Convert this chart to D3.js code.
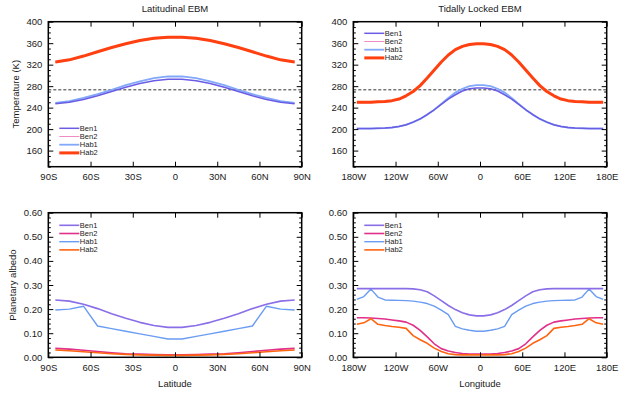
<!DOCTYPE html>
<html>
<head>
<meta charset="utf-8">
<script src="https://cdn.jsdelivr.net/npm/d3@7/dist/d3.min.js"></script>
<style>
  body { margin: 0; background: #fff; }
  svg { display: block; font-family: "Liberation Sans", Arial, sans-serif; }
</style>
</head>
<body>
<svg id="chart" width="625" height="398"></svg>
<script>
// grids
const lat = [-85, -75, -65, -55, -45, -35, -25, -15, -5, 5, 15, 25, 35, 45, 55, 65, 75, 85];
const lon = [-175, -165, -155, -145, -135, -125, -115, -105, -95, -85, -75, -65, -55, -45, -35, -25, -15, -5,
             5, 15, 25, 35, 45, 55, 65, 75, 85, 95, 105, 115, 125, 135, 145, 155, 165, 175];

const seriesNames = ['Ben1', 'Ben2', 'Hab1', 'Hab2'];
// Hab1 goes under Ben1 so the purple line shows where they overlap
const drawOrder = ['Hab1', 'Ben1', 'Ben2', 'Hab2'];

// Latitudinal EBM temperature (K)
const latTempBen1 = [247, 250, 255, 262, 270, 278, 285, 290, 293, 293, 290, 285, 278, 270, 262, 255, 250, 247];
const latTempBen2 = [324, 328, 335, 343, 351, 358, 364, 368, 370, 370, 368, 364, 358, 351, 343, 335, 328, 324];
const latTempHab1 = [249, 252, 258, 265, 273, 282, 289, 295, 298, 298, 295, 289, 282, 273, 265, 258, 252, 249];
const latTempHab2 = [325, 329, 336, 344, 352, 359, 365, 369, 371, 371, 369, 365, 359, 352, 344, 336, 329, 325];

// Tidally locked EBM temperature (K)
const lonTempBen1 = [201, 201, 201, 201.5, 202, 203, 205, 208, 213, 219, 227, 236, 246, 256, 264, 271, 275, 276.5,
                     276.5, 275, 271, 264, 256, 246, 236, 227, 219, 213, 208, 205, 203, 202, 201.5, 201, 201, 201];
const lonTempBen2 = [249, 249, 249, 250, 250.5, 252, 255, 261, 269, 280, 294, 309, 324, 337, 347, 353, 356.5, 358,
                     358, 356.5, 353, 347, 337, 324, 309, 294, 280, 269, 261, 255, 252, 250.5, 250, 249, 249, 249];
const lonTempHab1 = [201, 201, 201, 201.5, 202, 203, 205, 208, 213, 219, 227, 236, 247, 258, 268, 275, 280, 282,
                     282, 280, 275, 268, 258, 247, 236, 227, 219, 213, 208, 205, 203, 202, 201.5, 201, 201, 201];
const lonTempHab2 = [250, 250, 250, 251, 251.5, 253, 256, 262, 270, 281, 295, 310, 325, 338, 348, 354, 357.5, 359,
                     359, 357.5, 354, 348, 338, 325, 310, 295, 281, 270, 262, 256, 253, 251.5, 251, 250, 250, 250];

// Latitudinal EBM albedo
const latAlbBen1 = [.238, .233, .220, .202, .181, .162, .145, .132, .124, .124, .132, .145, .162, .181, .202, .220, .233, .238];
const latAlbBen2 = [.037, .034, .029, .024, .019, .015, .013, .011, .010, .010, .011, .013, .015, .019, .024, .029, .034, .037];
const latAlbHab1 = [.196, .200, .212, .130, .119, .108, .097, .087, .076, .076, .087, .097, .108, .119, .130, .212, .200, .196];
const latAlbHab2 = [.030, .027, .023, .019, .015, .012, .010, .009, .008, .008, .009, .010, .012, .015, .019, .023, .027, .030];

// Tidally locked EBM albedo
const lonAlbBen1 = [.285, .285, .285, .285, .285, .285, .285, .285, .284, .280, .272, .255, .235, .215, .198, .185, .176, .172,
                    .172, .176, .185, .198, .215, .235, .255, .272, .280, .284, .285, .285, .285, .285, .285, .285, .285, .285];
const lonAlbBen2 = [.164, .164, .163, .161, .159, .155, .151, .146, .133, .112, .085, .056, .036, .026, .020, .016, .014, .013,
                    .013, .014, .016, .020, .026, .036, .056, .085, .112, .133, .146, .151, .155, .159, .161, .163, .164, .164];
const lonAlbHab1 = [.240, .252, .283, .250, .238, .237, .236, .235, .233, .229, .223, .212, .196, .177, .128, .118, .112, .108,
                    .108, .112, .118, .128, .177, .196, .212, .223, .229, .233, .235, .236, .237, .238, .250, .283, .252, .240];
const lonAlbHab2 = [.137, .143, .160, .137, .132, .128, .125, .120, .090, .073, .058, .038, .024, .015, .011, .010, .010, .010,
                    .010, .010, .010, .011, .015, .024, .038, .058, .073, .090, .120, .125, .128, .132, .137, .160, .143, .137];

// ticks
const latTicks = [-90, -60, -30, 0, 30, 60, 90];
const latTickLabels = ['90S', '60S', '30S', '0', '30N', '60N', '90N'];
const lonTicks = [-180, -120, -60, 0, 60, 120, 180];
const lonTickLabels = ['180W', '120W', '60W', '0', '60E', '120E', '180E'];
const tempTicks = [160, 200, 240, 280, 320, 360, 400];
const albTicks = [0, 0.1, 0.2, 0.3, 0.4, 0.5, 0.6];
const freezing = 273.15;

const svg = d3.select('#chart');

// styles for top (temperature) and bottom (albedo) rows
const topStyle = {
    Ben1: { color: '#6a5ce4', width: 1.5 },
    Ben2: { color: '#f08cc4', width: 1 },
    Hab1: { color: '#82a8fa', width: 1.8 },
    Hab2: { color: '#ff4010', width: 3 }
};
const bottomStyle = {
    Ben1: { color: '#8a6ee8', width: 1.6 },
    Ben2: { color: '#e0308a', width: 1.6 },
    Hab1: { color: '#6a9cf4', width: 1.4 },
    Hab2: { color: '#ff6410', width: 1.6 }
};

const font = 9.5;

function drawPanel(cfg) {
    const x = d3.scaleLinear().domain(cfg.xDomain).range(cfg.xRange);
    const y = d3.scaleLinear().domain(cfg.yDomain).range(cfg.yRange);
    const g = svg.append('g');
    const left = cfg.xRange[0], right = cfg.xRange[1];
    const top = cfg.yRange[1], bottom = cfg.yRange[0];

    // freezing line
    if (cfg.dashed) {
        g.append('line')
            .attr('x1', left).attr('x2', right)
            .attr('y1', y(freezing)).attr('y2', y(freezing))
            .attr('stroke', '#000').attr('stroke-width', 0.8)
            .attr('stroke-dasharray', '3,2');
    }

    // series
    const line = d3.line().x((d, i) => x(cfg.xs[i])).y(d => y(d));
    drawOrder.forEach(name => {
        const st = cfg.style[name];
        g.append('path')
            .datum(cfg.data[name])
            .attr('d', line)
            .attr('fill', 'none')
            .attr('stroke', st.color)
            .attr('stroke-width', st.width)
            .attr('stroke-linejoin', 'round');
    });

    // minor ticks on y (inward, both sides)
    const minor = d3.range(cfg.yDomain[0], cfg.yDomain[1] + 1e-9, cfg.yMinor)
        .filter(v => !cfg.yTicks.some(t => Math.abs(t - v) < 1e-9));
    g.append('g').attr('transform', `translate(${left},0)`)
        .call(d3.axisLeft(y).tickValues(minor).tickSize(-2.5).tickFormat(''));
    g.append('g').attr('transform', `translate(${right},0)`)
        .call(d3.axisRight(y).tickValues(minor).tickSize(-2.5).tickFormat(''));

    // major ticks
    g.append('g').attr('class', 'axis-y').attr('transform', `translate(${left},0)`)
        .call(d3.axisLeft(y).tickValues(cfg.yTicks).tickSize(-5).tickPadding(6).tickFormat(cfg.yFormat));
    g.append('g').attr('transform', `translate(${right},0)`)
        .call(d3.axisRight(y).tickValues(cfg.yTicks).tickSize(-5).tickFormat(''));
    g.append('g').attr('class', 'axis-x').attr('transform', `translate(0,${bottom})`)
        .call(d3.axisBottom(x).tickValues(cfg.xTicks).tickSize(-5).tickPadding(6.5)
            .tickFormat((d, i) => cfg.xLabels[i]));
    g.append('g').attr('transform', `translate(0,${top})`)
        .call(d3.axisTop(x).tickValues(cfg.xTicks).tickSize(-5).tickFormat(''));

    g.selectAll('.domain').remove();
    g.selectAll('.tick line').attr('stroke', '#000').attr('stroke-width', 1);
    g.selectAll('.tick text').attr('font-size', font).attr('fill', '#1a1a1a')
        .attr('font-family', '"Liberation Sans", Arial, sans-serif');

    // frame
    g.append('rect')
        .attr('x', left).attr('y', top)
        .attr('width', right - left).attr('height', bottom - top)
        .attr('fill', 'none').attr('stroke', '#000').attr('stroke-width', 1.5);

    // legend
    seriesNames.forEach((name, i) => {
        const st = cfg.style[name];
        const ly = cfg.legendY + i * 8.2;
        g.append('line')
            .attr('x1', left + 11).attr('x2', left + 31)
            .attr('y1', ly).attr('y2', ly)
            .attr('stroke', st.color).attr('stroke-width', st.width);
        g.append('text')
            .attr('x', left + 31.5).attr('y', ly)
            .attr('dominant-baseline', 'central')
            .attr('font-size', 7.5).attr('fill', '#222')
            .text(name);
    });

    // title
    if (cfg.title) {
        svg.append('text')
            .attr('x', (left + right) / 2).attr('y', 11.5)
            .attr('text-anchor', 'middle')
            .attr('font-size', font).attr('fill', '#1a1a1a')
            .text(cfg.title);
    }
    // x label
    if (cfg.xTitle) {
        svg.append('text')
            .attr('x', (left + right) / 2).attr('y', 386.5)
            .attr('text-anchor', 'middle')
            .attr('font-size', font).attr('fill', '#1a1a1a')
            .text(cfg.xTitle);
    }
    // y label
    if (cfg.yTitle) {
        const cy = (top + bottom) / 2;
        svg.append('text')
            .attr('transform', `translate(${cfg.yTitleX},${cy}) rotate(-90)`)
            .attr('text-anchor', 'middle')
            .attr('dominant-baseline', 'central')
            .attr('font-size', font).attr('fill', '#1a1a1a')
            .text(cfg.yTitle);
    }
}

const leftRange = [48.3, 301.7];
const rightRange = [353.3, 606.7];
const topRange = [166.7, 21.7];
const bottomRange = [357.3, 212.7];

drawPanel({
    xs: lat, xDomain: [-90, 90], xRange: leftRange, xTicks: latTicks, xLabels: latTickLabels,
    yDomain: [130, 400], yRange: topRange, yTicks: tempTicks, yMinor: 10, yFormat: d3.format('d'),
    data: { Ben1: latTempBen1, Ben2: latTempBen2, Hab1: latTempHab1, Hab2: latTempHab2 },
    style: topStyle, dashed: true, legendY: 128.3,
    title: 'Latitudinal EBM', yTitle: 'Temperature (K)', yTitleX: 15
});
drawPanel({
    xs: lon, xDomain: [-180, 180], xRange: rightRange, xTicks: lonTicks, xLabels: lonTickLabels,
    yDomain: [130, 400], yRange: topRange, yTicks: tempTicks, yMinor: 10, yFormat: d3.format('d'),
    data: { Ben1: lonTempBen1, Ben2: lonTempBen2, Hab1: lonTempHab1, Hab2: lonTempHab2 },
    style: topStyle, dashed: true, legendY: 33.3,
    title: 'Tidally Locked EBM'
});
drawPanel({
    xs: lat, xDomain: [-90, 90], xRange: leftRange, xTicks: latTicks, xLabels: latTickLabels,
    yDomain: [0, 0.6], yRange: bottomRange, yTicks: albTicks, yMinor: 0.02, yFormat: d3.format('.2f'),
    data: { Ben1: latAlbBen1, Ben2: latAlbBen2, Hab1: latAlbHab1, Hab2: latAlbHab2 },
    style: bottomStyle, legendY: 225.3,
    xTitle: 'Latitude', yTitle: 'Planetary albedo', yTitleX: 12.7
});
drawPanel({
    xs: lon, xDomain: [-180, 180], xRange: rightRange, xTicks: lonTicks, xLabels: lonTickLabels,
    yDomain: [0, 0.6], yRange: bottomRange, yTicks: albTicks, yMinor: 0.02, yFormat: d3.format('.2f'),
    data: { Ben1: lonAlbBen1, Ben2: lonAlbBen2, Hab1: lonAlbHab1, Hab2: lonAlbHab2 },
    style: bottomStyle, legendY: 225.3,
    xTitle: 'Longitude'
});
</script>
</body>
</html>
